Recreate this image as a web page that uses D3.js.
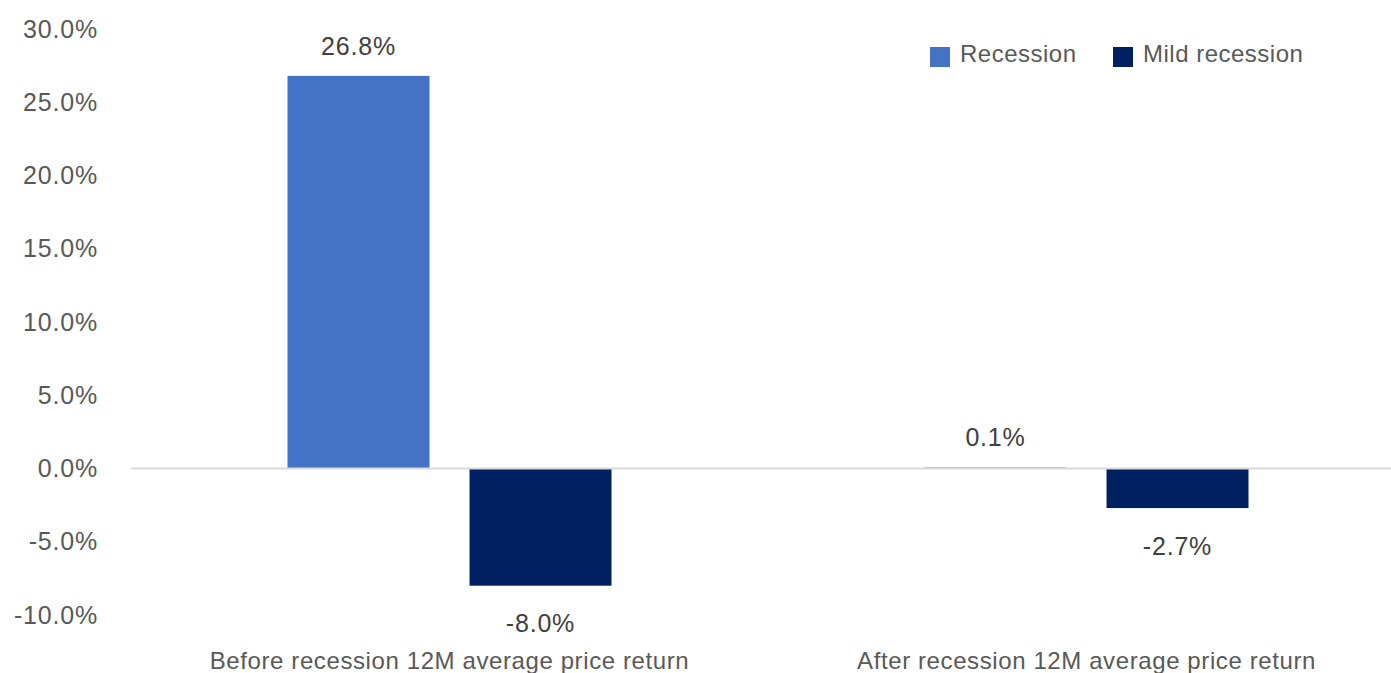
<!DOCTYPE html>
<html>
<head>
<meta charset="utf-8">
<script src="https://cdn.jsdelivr.net/npm/d3@7/dist/d3.min.js"></script>
<style>
  html, body { margin: 0; padding: 0; background: #ffffff; }
  svg { display: block; font-family: "Liberation Sans", Arial, Helvetica, sans-serif; }
</style>
</head>
<body>
<svg id="chart" width="1391" height="673"></svg>
<script>
// Chart data
const categories = ["Before recession 12M average price return", "After recession 12M average price return"];
const seriesNames = ["Recession", "Mild recession"];
const recessionValues = [26.8, 0.1];
const mildRecessionValues = [-8.0, -2.7];
const yTicks = [-10, -5, 0, 5, 10, 15, 20, 25, 30];

const colors = { "Recession": "#4472C4", "Mild recession": "#002060" };
const textColor = "#595959";

// Percent format with a plain hyphen for negatives
const pct = v => d3.format(".1f")(v).replace("\u2212", "-") + "%";

const svg = d3.select("#chart");

// Scales
const y = d3.scaleLinear().domain([-10, 30]).range([615, 29]);
const x0 = d3.scaleBand().domain(categories).range([131, 1405]).paddingInner(0).paddingOuter(0);
const groupWidth = 324;
const x1 = d3.scaleBand()
  .domain(seriesNames)
  .range([(x0.bandwidth() - groupWidth) / 2, (x0.bandwidth() + groupWidth) / 2])
  .paddingInner(0.22)
  .paddingOuter(0);

const rows = categories.map((c, i) => ({
  category: c,
  values: [
    { series: "Recession", value: recessionValues[i] },
    { series: "Mild recession", value: mildRecessionValues[i] }
  ]
}));

// Y axis labels (no axis line, no ticks)
const yAxis = d3.axisLeft(y)
  .tickValues(yTicks)
  .tickSize(0)
  .tickPadding(0)
  .tickFormat(pct);

const yg = svg.append("g").attr("transform", "translate(98,0)").call(yAxis);
yg.select(".domain").remove();
yg.selectAll("text")
  .attr("fill", textColor)
  .style("font-size", "25px")
  .style("letter-spacing", "0.8px")
  .style("font-family", "\"Liberation Sans\", Arial, sans-serif");

// Bars
const groups = svg.append("g")
  .selectAll("g")
  .data(rows)
  .join("g")
  .attr("transform", d => `translate(${x0(d.category)},0)`);

groups.selectAll("rect")
  .data(d => d.values)
  .join("rect")
  .attr("x", d => x1(d.series))
  .attr("width", x1.bandwidth())
  .attr("y", d => y(Math.max(0, d.value)))
  .attr("height", d => Math.max(1, Math.abs(y(d.value) - y(0))))
  .attr("fill", d => colors[d.series])
  .attr("opacity", d => Math.abs(d.value) < 0.5 ? 0.45 : 1);

// Zero line
svg.append("line")
  .attr("x1", x0.range()[0])
  .attr("x2", x0.range()[1])
  .attr("y1", y(0))
  .attr("y2", y(0))
  .attr("stroke", "#d9d9d9")
  .attr("stroke-width", 2);

// Value labels
groups.selectAll("text.value")
  .data(d => d.values)
  .join("text")
  .attr("class", "value")
  .attr("x", d => x1(d.series) + x1.bandwidth() / 2)
  .attr("y", d => d.value >= 0 ? y(d.value) - 30 : y(d.value) + 38)
  .attr("dy", "0.35em")
  .attr("text-anchor", "middle")
  .attr("fill", "#404040")
  .style("font-size", "25px")
  .style("letter-spacing", "0.8px")
  .text(d => pct(d.value));

// Category labels
const xAxis = d3.axisBottom(x0).tickSize(0).tickPadding(0);
const xg = svg.append("g").attr("transform", "translate(0,661)").call(xAxis);
xg.select(".domain").remove();
xg.selectAll("text")
  .attr("dy", "0.35em")
  .attr("fill", textColor)
  .style("font-size", "24px")
  .style("letter-spacing", "0.6px")
  .style("font-family", "\"Liberation Sans\", Arial, sans-serif");

// Legend
const legendItems = [
  { name: "Recession", x: 930 },
  { name: "Mild recession", x: 1113 }
];
const legend = svg.append("g")
  .selectAll("g")
  .data(legendItems)
  .join("g")
  .attr("transform", d => `translate(${d.x},47)`);
legend.append("rect")
  .attr("width", 20)
  .attr("height", 20)
  .attr("fill", d => colors[d.name]);
legend.append("text")
  .attr("x", 30)
  .attr("y", 15)
  .attr("fill", textColor)
  .style("font-size", "24px")
  .style("letter-spacing", "0.5px")
  .text(d => d.name);
</script>
</body>
</html>
